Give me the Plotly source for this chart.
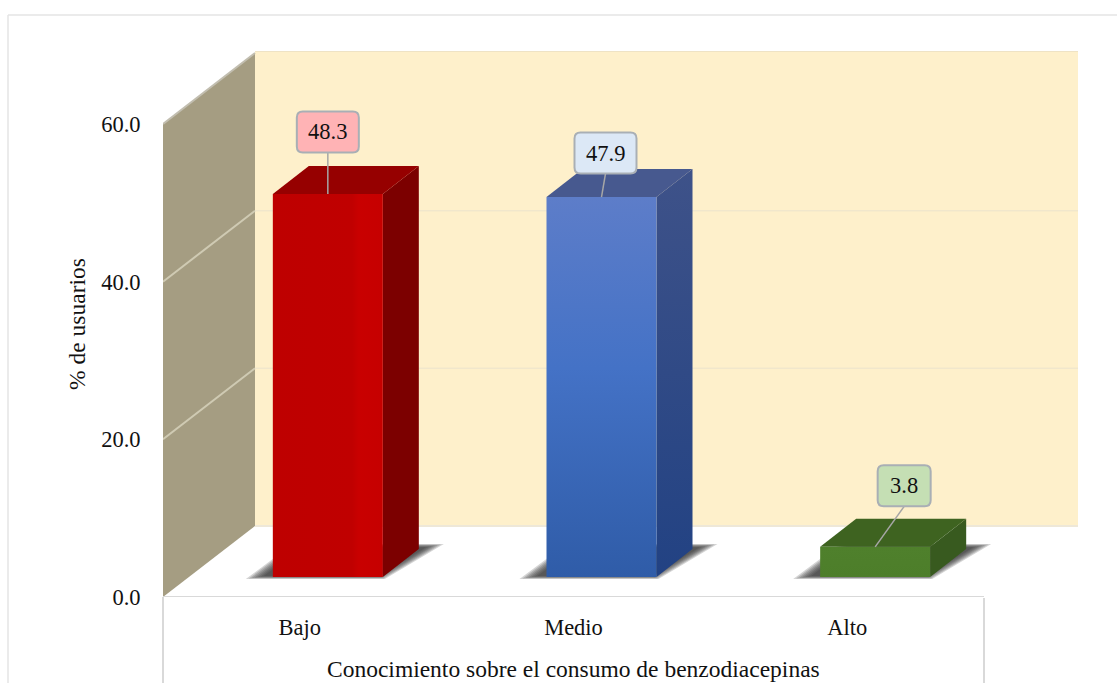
import plotly.graph_objects as go

categories = ["Bajo", "Medio", "Alto"]
values = [48.3, 47.9, 3.8]
y_ticks = [0, 20, 40, 60]
y_tick_labels = ["0.0", "20.0", "40.0", "60.0"]
x_title = "Conocimiento sobre el consumo de benzodiacepinas"
y_title = "% de usuarios"

FONT = "Liberation Serif"
FS = 22.5
FS_TITLE = 23.5
W, H = 1117, 693
L, R, T, B = 163, 1078, 51, 597          # plot box in page pixels
AXIS_RIGHT = 984
SX = (AXIS_RIGHT - L) / 3.0              # px per category
SY = (B - 124) / 60.0                    # px per unit
YMAX = (B - T) / SY
XMAX = -0.5 + (R - L) / SX
DEPTH = (92, 71)                         # wall depth in px
BAR_DEPTH = (36, 28)
BAR_W = 110
BAR_SHIFT = (-27, 20)                    # front-left bottom corner vs category centre / axis
H_SCALE = 1.006

faces = [
    dict(front=[[0, "#BE0000"], [0.72, "#C00000"], [0.78, "#C90000"], [1, "#C60000"]], gtype="horizontal",
         top="#960000", side="#7C0000", side2="#7C0000",
         box="#FFB3B5", off=(0, -62), lead=55, bw=62),
    dict(front=[[0, "#2F5CA8"], [0.55, "#4472C6"], [1, "#5D7DC9"]], gtype="vertical",
         top="#47598F", side="#3E5289", side2="#224283",
         box="#DCE8F6", off=(4, -44), lead=55, bw=62),
    dict(front=[[0, "#4D7E2A"], [1, "#4F802C"]], gtype="vertical",
         top="#3E6320", side="#385A1F", side2="#385A1F",
         box="#C5DFB4", off=(29, -61), lead=55, bw=53),
]


def dx(px):
    return px / SX


def dy(px):
    return px / SY


fig = go.Figure()


def poly(xs, ys, color=None, gradient=None, line=None):
    kw = dict(x=list(xs) + [xs[0]], y=list(ys) + [ys[0]], mode="lines", fill="toself",
              line=dict(width=0) if line is None else line,
              hoverinfo="skip", showlegend=False, cliponaxis=False)
    if gradient:
        kw["fillgradient"] = gradient
    else:
        kw["fillcolor"] = color
    fig.add_trace(go.Scatter(**kw))


def seg(xs, ys, color, width):
    fig.add_trace(go.Scatter(x=xs, y=ys, mode="lines", line=dict(color=color, width=width),
                             hoverinfo="skip", showlegend=False, cliponaxis=False))


x0 = -0.5
ddx, ddy = dx(DEPTH[0]), dy(DEPTH[1])
xr = XMAX
top = YMAX

# back wall
poly([x0 + ddx, xr, xr, x0 + ddx], [ddy, ddy, top, top], color="#FEF0CB")
seg([x0 + ddx, xr], [top, top], "#EADFC3", 1.5)
seg([x0 + ddx, xr], [ddy, ddy], "#EEE8D8", 2)
# left wall
poly([x0, x0 + ddx, x0 + ddx, x0], [0, ddy, 60 + ddy, 60], color="#A59D82")
seg([x0, x0 + ddx], [60, 60 + ddy], "#C2BEB0", 2)
# gridlines
for v in y_ticks[1:-1]:
    seg([x0, x0 + ddx], [v, v + ddy], "#CFCAB3", 2)
    seg([x0 + ddx, xr], [v + ddy, v + ddy], "#F1E7CC", 1.5)
# category axis line stops at the last category
seg([x0, 2.5], [0, 0], "#D9D9D9", 2)

# bars
for i, (val, f) in enumerate(zip(values, faces)):
    xl = i + dx(BAR_SHIFT[0])
    xw = dx(BAR_W)
    y0 = dy(BAR_SHIFT[1])
    y1 = y0 + val * H_SCALE
    bdx, bdy = dx(BAR_DEPTH[0]), dy(BAR_DEPTH[1])

    # soft floor shadow
    shadow_x = [xl + dx(-27), xl + xw + dx(2), xl + dx(171), xl + dx(20)]
    shadow_y = [y0 - dy(2), y0 - dy(2), y0 + dy(33), y0 + dy(33)]
    mx, my = xl + dx(72), y0 + dy(15)
    for k in [1.0, 0.97, 0.94, 0.91, 0.88, 0.85, 0.82]:
        poly([mx + (a - mx) * k for a in shadow_x],
             [my + (b - my) * k for b in shadow_y],
             color="rgba(45,45,45,0.2)")

    # side, top, front
    poly([xl + xw, xl + xw + bdx, xl + xw + bdx, xl + xw],
         [y0, y0 + bdy, y1 + bdy, y1],
         gradient=dict(type="vertical", colorscale=[[0, f["side2"]], [1, f["side"]]]))
    poly([xl, xl + xw, xl + xw + bdx, xl + bdx],
         [y1, y1, y1 + bdy, y1 + bdy], color=f["top"])
    poly([xl, xl + xw, xl + xw, xl], [y0, y0, y1, y1],
         gradient=dict(type=f["gtype"], colorscale=f["front"]))

    # data label: leader line, rounded box, text
    lx = xl + dx(f["lead"])
    ox, oy = f["off"]
    bx = lx + dx(ox)
    by = y1 - dy(oy)
    half_h = dy(20.5)
    seg([lx, bx], [y1, by - half_h], "#A6A6A6", 1.5)
    hw = dx(f["bw"] / 2)
    rx, ry = dx(6), dy(6)
    a, b, c, d = bx - hw, bx + hw, by - half_h, by + half_h
    path = (f"M {a + rx},{c} L {b - rx},{c} Q {b},{c} {b},{c + ry} L {b},{d - ry} Q {b},{d} {b - rx},{d} "
            f"L {a + rx},{d} Q {a},{d} {a},{d - ry} L {a},{c + ry} Q {a},{c} {a + rx},{c} Z")
    fig.add_shape(type="path", path=path, xref="x", yref="y", fillcolor=f["box"],
                  line=dict(color="#A9AFB5", width=2), layer="above")
    fig.add_annotation(x=bx, y=by, text=f"{val:.1f}", showarrow=False, xref="x", yref="y",
                       font=dict(family=FONT, size=FS, color="#111111"))


# frame and table lines, in page pixels via paper coordinates
def pxp(px):
    return (px - L) / (R - L)


def pyp(py):
    return (B - py) / (B - T)


shapes_lines = [
    (pxp(8), pyp(683), pxp(8), pyp(15), "#E4E4E4", 1.5),
    (pxp(8), pyp(15), pxp(1117), pyp(15), "#E4E4E4", 1.5),
    (pxp(163), pyp(597), pxp(163), pyp(683), "#D9D9D9", 2),
    (pxp(AXIS_RIGHT), pyp(598), pxp(AXIS_RIGHT), pyp(683), "#D9D9D9", 2),
]
for xa, ya, xb, yb, col, wd in shapes_lines:
    fig.add_shape(type="line", xref="paper", yref="paper", x0=xa, y0=ya, x1=xb, y1=yb,
                  line=dict(color=col, width=wd))

# category-axis title, centred under the middle category
fig.add_annotation(x=1, xref="x", y=pyp(642), yref="paper", yanchor="top", yshift=-12, text=x_title,
                   showarrow=False, font=dict(family=FONT, size=FS_TITLE, color="#111111"))

fig.update_layout(
    width=W, height=H,
    margin=dict(l=L, r=W - R, t=T, b=H - B, autoexpand=False),
    paper_bgcolor="white", plot_bgcolor="white",
    font=dict(family=FONT, size=FS, color="#111111"),
    showlegend=False,
    xaxis=dict(range=[-0.5, XMAX], tickmode="array", tickvals=list(range(len(categories))), ticktext=categories,
               showgrid=False, zeroline=False, showline=False,
               ticks="outside", ticklen=10, tickcolor="rgba(0,0,0,0)"),
    yaxis=dict(range=[0, YMAX], tickmode="array", tickvals=y_ticks, ticktext=y_tick_labels,
               showgrid=False, zeroline=False, showline=False,
               ticks="outside", ticklen=17, tickcolor="rgba(0,0,0,0)",
               title=dict(text=y_title, standoff=8, font=dict(family=FONT, size=FS_TITLE))),
)

fig.write_html("out.html", config=dict(displayModeBar=False),
               post_script="document.body.style.margin='0';document.body.style.overflow='hidden';")
